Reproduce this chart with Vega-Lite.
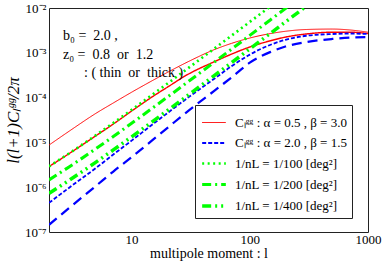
{
  "$schema": "https://vega.github.io/schema/vega-lite/v6.json",
  "width": 319,
  "height": 224,
  "autosize": {"type": "none"},
  "padding": {"left": 49, "top": 8, "right": 14, "bottom": 30},
  "config": {
    "font": "Liberation Serif",
    "view": {"stroke": "#222", "strokeWidth": 1},
    "axis": {"domain": false, "grid": false, "tickColor": "#222", "tickWidth": 1, "tickSize": 0, "labelFont": "Liberation Serif", "labelFontSize": 13, "labelColor": "black", "titleFont": "Liberation Serif", "titleFontWeight": "normal", "titleColor": "black", "titleFontSize": 14, "labelFlush": false, "labelOverlap": false, "labelBound": false},
    "legend": {"symbolType": "stroke", "symbolSize": 560, "labelFont": "Liberation Serif", "labelFontSize": 13, "labelColor": "black", "rowPadding": -2, "padding": 5, "strokeColor": "#222", "fillColor": "white", "labelOffset": 7, "labelLimit": 400}
  },
  "title": {"text": ["b₀\u00a0=\u00a0\u00a02.0\u00a0,", "z₀\u00a0=\u00a0\u00a00.8\u00a0\u00a0or\u00a0\u00a01.2", "\u200b\u2003\u2002:\u00a0(\u00a0thin\u00a0\u00a0or\u00a0\u00a0thick\u00a0)"], "orient": "top", "anchor": "start", "frame": "group", "baseline": "top", "offset": -12, "dx": 14, "dy": 66, "font": "Liberation Serif", "fontSize": 14, "fontWeight": "normal", "lineHeight": 18.5, "color": "black"},
  "datasets": {
    "curves": [
      {"s": "1r1", "l": 2, "v": 8.71e-6}, {"s": "1r1", "l": 3, "v": 1.82e-5}, {"s": "1r1", "l": 5, "v": 4.47e-5}, {"s": "1r1", "l": 7, "v": 7.59e-5}, {"s": "1r1", "l": 10, "v": 1.318e-4}, {"s": "1r1", "l": 15, "v": 2.40e-4}, {"s": "1r1", "l": 20, "v": 3.63e-4}, {"s": "1r1", "l": 30, "v": 6.31e-4}, {"s": "1r1", "l": 50, "v": 1.175e-3}, {"s": "1r1", "l": 70, "v": 1.622e-3}, {"s": "1r1", "l": 100, "v": 2.138e-3}, {"s": "1r1", "l": 150, "v": 2.692e-3}, {"s": "1r1", "l": 200, "v": 3.02e-3}, {"s": "1r1", "l": 300, "v": 3.311e-3}, {"s": "1r1", "l": 500, "v": 3.388e-3}, {"s": "1r1", "l": 700, "v": 3.236e-3}, {"s": "1r1", "l": 1000, "v": 2.884e-3},
      {"s": "2r2", "l": 2, "v": 2.884e-6}, {"s": "2r2", "l": 3, "v": 5.754e-6}, {"s": "2r2", "l": 5, "v": 1.413e-5}, {"s": "2r2", "l": 7, "v": 2.57e-5}, {"s": "2r2", "l": 10, "v": 5.012e-5}, {"s": "2r2", "l": 15, "v": 1.047e-4}, {"s": "2r2", "l": 20, "v": 1.698e-4}, {"s": "2r2", "l": 30, "v": 3.311e-4}, {"s": "2r2", "l": 50, "v": 6.31e-4}, {"s": "2r2", "l": 70, "v": 9.333e-4}, {"s": "2r2", "l": 100, "v": 1.349e-3}, {"s": "2r2", "l": 150, "v": 1.862e-3}, {"s": "2r2", "l": 200, "v": 2.239e-3}, {"s": "2r2", "l": 300, "v": 2.63e-3}, {"s": "2r2", "l": 500, "v": 2.884e-3}, {"s": "2r2", "l": 700, "v": 2.884e-3}, {"s": "2r2", "l": 1000, "v": 2.692e-3},
      {"s": "3b1", "l": 2, "v": 4.467e-7}, {"s": "3b1", "l": 3, "v": 1.0e-6}, {"s": "3b1", "l": 5, "v": 2.692e-6}, {"s": "3b1", "l": 7, "v": 5.37e-6}, {"s": "3b1", "l": 10, "v": 1.096e-5}, {"s": "3b1", "l": 15, "v": 2.512e-5}, {"s": "3b1", "l": 20, "v": 4.467e-5}, {"s": "3b1", "l": 30, "v": 1.0e-4}, {"s": "3b1", "l": 50, "v": 2.63e-4}, {"s": "3b1", "l": 70, "v": 5.012e-4}, {"s": "3b1", "l": 100, "v": 9.12e-4}, {"s": "3b1", "l": 150, "v": 1.514e-3}, {"s": "3b1", "l": 200, "v": 1.95e-3}, {"s": "3b1", "l": 300, "v": 2.399e-3}, {"s": "3b1", "l": 500, "v": 2.63e-3}, {"s": "3b1", "l": 700, "v": 2.692e-3}, {"s": "3b1", "l": 1000, "v": 2.63e-3},
      {"s": "4b2", "l": 2, "v": 1.445e-7}, {"s": "4b2", "l": 3, "v": 3.548e-7}, {"s": "4b2", "l": 5, "v": 1.072e-6}, {"s": "4b2", "l": 7, "v": 2.239e-6}, {"s": "4b2", "l": 10, "v": 4.677e-6}, {"s": "4b2", "l": 15, "v": 1.122e-5}, {"s": "4b2", "l": 20, "v": 2.089e-5}, {"s": "4b2", "l": 30, "v": 5.012e-5}, {"s": "4b2", "l": 50, "v": 1.413e-4}, {"s": "4b2", "l": 70, "v": 2.818e-4}, {"s": "4b2", "l": 100, "v": 6.026e-4}, {"s": "4b2", "l": 150, "v": 1.047e-3}, {"s": "4b2", "l": 200, "v": 1.38e-3}, {"s": "4b2", "l": 300, "v": 1.738e-3}, {"s": "4b2", "l": 500, "v": 2.042e-3}, {"s": "4b2", "l": 700, "v": 2.188e-3}, {"s": "4b2", "l": 1000, "v": 2.239e-3},
      {"s": "5g1", "l": 2, "v": 2.909e-6}, {"s": "5g1", "l": 3, "v": 5.818e-6}, {"s": "5g1", "l": 5, "v": 1.454e-5}, {"s": "5g1", "l": 7, "v": 2.715e-5}, {"s": "5g1", "l": 10, "v": 5.333e-5}, {"s": "5g1", "l": 15, "v": 1.1635e-4}, {"s": "5g1", "l": 20, "v": 2.036e-4}, {"s": "5g1", "l": 30, "v": 4.509e-4}, {"s": "5g1", "l": 50, "v": 1.236e-3}, {"s": "5g1", "l": 70, "v": 2.409e-3}, {"s": "5g1", "l": 100, "v": 4.896e-3}, {"s": "5g1", "l": 150, "v": 1.0981e-2}, {"s": "5g1", "l": 200, "v": 1.949e-2},
      {"s": "6g2", "l": 2, "v": 1.4545e-6}, {"s": "6g2", "l": 3, "v": 2.909e-6}, {"s": "6g2", "l": 5, "v": 7.27e-6}, {"s": "6g2", "l": 7, "v": 1.3575e-5}, {"s": "6g2", "l": 10, "v": 2.6665e-5}, {"s": "6g2", "l": 15, "v": 5.8175e-5}, {"s": "6g2", "l": 20, "v": 1.018e-4}, {"s": "6g2", "l": 30, "v": 2.2545e-4}, {"s": "6g2", "l": 50, "v": 6.18e-4}, {"s": "6g2", "l": 70, "v": 1.2045e-3}, {"s": "6g2", "l": 100, "v": 2.448e-3}, {"s": "6g2", "l": 150, "v": 5.4905e-3}, {"s": "6g2", "l": 200, "v": 9.745e-3}, {"s": "6g2", "l": 300, "v": 2.189e-2},
      {"s": "7g4", "l": 2, "v": 7.2725e-7}, {"s": "7g4", "l": 3, "v": 1.4545e-6}, {"s": "7g4", "l": 5, "v": 3.635e-6}, {"s": "7g4", "l": 7, "v": 6.7875e-6}, {"s": "7g4", "l": 10, "v": 1.33325e-5}, {"s": "7g4", "l": 15, "v": 2.90875e-5}, {"s": "7g4", "l": 20, "v": 5.09e-5}, {"s": "7g4", "l": 30, "v": 1.12725e-4}, {"s": "7g4", "l": 50, "v": 3.09e-4}, {"s": "7g4", "l": 70, "v": 6.0225e-4}, {"s": "7g4", "l": 100, "v": 1.224e-3}, {"s": "7g4", "l": 150, "v": 2.74525e-3}, {"s": "7g4", "l": 200, "v": 4.8725e-3}, {"s": "7g4", "l": 300, "v": 1.0945e-2}
    ]
  },
  "layer": [
    {
      "data": {"name": "curves"},
      "mark": {"type": "line", "clip": true, "interpolate": "monotone"},
      "encoding": {
        "x": {"field": "l", "type": "quantitative", "scale": {"type": "log", "domain": [2, 1000], "nice": false},
          "axis": {"orient": "bottom", "values": [2,3,4,5,6,7,8,9,10,20,30,40,50,60,70,80,90,100,200,300,400,500,600,700,800,900,1000],
            "labelExpr": "datum.value == 10 ? '10' : datum.value == 100 ? '100' : datum.value == 1000 ? '1000' : ''",
            "labelPadding": 1, "title": "multipole moment : l", "titlePadding": 0,
            "encode": {"ticks": {"update": {"y2": [{"test": "indexof([10,100,1000], datum.value) >= 0", "value": -6}, {"value": -3}]}}}}},
        "y": {"field": "v", "type": "quantitative", "scale": {"type": "log", "domain": [1e-7, 1e-2], "nice": false},
          "axis": {"orient": "left", "values": [1e-7,2e-7,3e-7,4e-7,5e-7,6e-7,7e-7,8e-7,9e-7,1e-6,2e-6,3e-6,4e-6,5e-6,6e-6,7e-6,8e-6,9e-6,1e-5,2e-5,3e-5,4e-5,5e-5,6e-5,7e-5,8e-5,9e-5,1e-4,2e-4,3e-4,4e-4,5e-4,6e-4,7e-4,8e-4,9e-4,1e-3,2e-3,3e-3,4e-3,5e-3,6e-3,7e-3,8e-3,9e-3,1e-2],
            "labelExpr": "abs(log(datum.value)/LN10 - round(log(datum.value)/LN10)) < 0.001 ? ['10⁻⁷','10⁻⁶','10⁻⁵','10⁻⁴','10⁻³','10⁻²'][round(log(datum.value)/LN10) + 7] : ''",
            "labelPadding": 3, "title": "l(l+1)Cₗᵍᵍ/2π", "titleFontStyle": "italic", "titleFontSize": 17, "titlePadding": 2,
            "encode": {"ticks": {"update": {"x2": [{"test": "abs(log(datum.value)/LN10 - round(log(datum.value)/LN10)) < 0.001", "value": 6}, {"value": 3}]}}}}},
        "color": {"field": "s", "type": "nominal",
          "scale": {"domain": ["1r1","2r2","3b1","4b2","5g1","6g2","7g4"], "range": ["#ff0000","#ff0000","#0000ff","#0000ff","#00ff00","#00ff00","#00ff00"]},
          "legend": {"values": ["1r1","3b1","5g1","6g2","7g4"], "title": null, "orient": "none", "legendX": 146, "legendY": 97,
            "labelExpr": "datum.value == '1r1' ? 'Cₗᵍᵍ : α = 0.5 , β = 3.0' : datum.value == '3b1' ? 'Cₗᵍᵍ : α = 2.0 , β = 1.5' : datum.value == '5g1' ? '1/nL = 1/100 [deg²]' : datum.value == '6g2' ? '1/nL = 1/200 [deg²]' : '1/nL = 1/400 [deg²]'"}},
        "strokeDash": {"field": "s", "type": "nominal",
          "scale": {"domain": ["1r1","2r2","3b1","4b2","5g1","6g2","7g4"], "range": [[1,0],[1,0],[4,2],[10,6],[2,3.5],[9,4,2,4],[9,4,2,4,2,4]]},
          "legend": {"values": ["1r1","3b1","5g1","6g2","7g4"], "title": null, "orient": "none", "legendX": 146, "legendY": 97,
            "labelExpr": "datum.value == '1r1' ? 'Cₗᵍᵍ : α = 0.5 , β = 3.0' : datum.value == '3b1' ? 'Cₗᵍᵍ : α = 2.0 , β = 1.5' : datum.value == '5g1' ? '1/nL = 1/100 [deg²]' : datum.value == '6g2' ? '1/nL = 1/200 [deg²]' : '1/nL = 1/400 [deg²]'"}},
        "strokeWidth": {"field": "s", "type": "nominal",
          "scale": {"domain": ["1r1","2r2","3b1","4b2","5g1","6g2","7g4"], "range": [1,3.5,1,4,2,2,2]},
          "legend": {"values": ["1r1","3b1","5g1","6g2","7g4"], "title": null, "orient": "none", "legendX": 146, "legendY": 97,
            "labelExpr": "datum.value == '1r1' ? 'Cₗᵍᵍ : α = 0.5 , β = 3.0' : datum.value == '3b1' ? 'Cₗᵍᵍ : α = 2.0 , β = 1.5' : datum.value == '5g1' ? '1/nL = 1/100 [deg²]' : datum.value == '6g2' ? '1/nL = 1/200 [deg²]' : '1/nL = 1/400 [deg²]'"}}
      }
    },
    {
      "data": {"name": "curves"},
      "mark": {"type": "line", "clip": true, "opacity": 0},
      "encoding": {
        "x": {"field": "l", "type": "quantitative",
          "axis": {"orient": "top", "values": [2,3,4,5,6,7,8,9,10,20,30,40,50,60,70,80,90,100,200,300,400,500,600,700,800,900,1000], "labels": false, "title": null,
            "encode": {"ticks": {"update": {"y2": [{"test": "indexof([10,100,1000], datum.value) >= 0", "value": 6}, {"value": 3}]}}}}},
        "y": {"field": "v", "type": "quantitative",
          "axis": {"orient": "right", "values": [1e-7,2e-7,3e-7,4e-7,5e-7,6e-7,7e-7,8e-7,9e-7,1e-6,2e-6,3e-6,4e-6,5e-6,6e-6,7e-6,8e-6,9e-6,1e-5,2e-5,3e-5,4e-5,5e-5,6e-5,7e-5,8e-5,9e-5,1e-4,2e-4,3e-4,4e-4,5e-4,6e-4,7e-4,8e-4,9e-4,1e-3,2e-3,3e-3,4e-3,5e-3,6e-3,7e-3,8e-3,9e-3,1e-2], "labels": false, "title": null,
            "encode": {"ticks": {"update": {"x2": [{"test": "abs(log(datum.value)/LN10 - round(log(datum.value)/LN10)) < 0.001", "value": -6}, {"value": -3}]}}}}}
      }
    }
  ],
  "resolve": {"axis": {"x": "independent", "y": "independent"}}
}
